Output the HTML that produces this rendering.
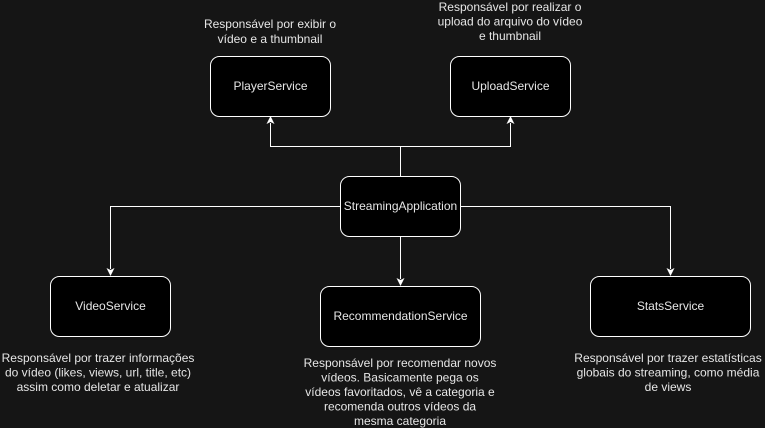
<!DOCTYPE html>
<html><head><meta charset="utf-8"><style>
html,body{margin:0;padding:0;background:#151515;}
svg{display:block;}
text{font-family:"Liberation Sans",Arial,sans-serif;font-size:12px;fill:#e6e6e6;text-anchor:middle;}
</style></head><body>
<svg width="765" height="428" viewBox="0 0 765 428" xmlns="http://www.w3.org/2000/svg">
<rect width="765" height="428" fill="#151515"/>
<g stroke="#ffffff" stroke-width="1" fill="none">
<path d="M400.5 176 V146.5 H270.5 V123"/>
<path d="M400.5 146.5 H510.5 V123"/>
<path d="M340 206.5 H110.5 V269"/>
<path d="M460 206.5 H670.5 V269"/>
<path d="M400.5 236 V279"/>
</g>
<g fill="#ffffff">
<path d="M270.5 116 L274.5 124 L270.5 122 L266.5 124 Z"/>
<path d="M510.5 116 L514.5 124 L510.5 122 L506.5 124 Z"/>
<path d="M110.5 276 L114.5 268 L110.5 270 L106.5 268 Z"/>
<path d="M670.5 276 L674.5 268 L670.5 270 L666.5 268 Z"/>
<path d="M400.5 286 L404.5 278 L400.5 280 L396.5 278 Z"/>
</g>
<g fill="#000000" stroke="#ffffff" stroke-width="1">
<rect x="210.5" y="56.5" width="120" height="60" rx="9"/>
<rect x="450.5" y="56.5" width="120" height="60" rx="9"/>
<rect x="340.5" y="176.5" width="120" height="60" rx="9"/>
<rect x="50.5" y="276.5" width="120" height="60" rx="9"/>
<rect x="320.5" y="286.5" width="160" height="60" rx="9"/>
<rect x="590.5" y="276.5" width="160" height="60" rx="9"/>
</g>
<text x="270.5" y="90">PlayerService</text>
<text x="510.5" y="90">UploadService</text>
<text x="400.5" y="210">StreamingApplication</text>
<text x="110.5" y="310">VideoService</text>
<text x="400.5" y="320">RecommendationService</text>
<text x="670.5" y="310">StatsService</text>
<text x="270" y="28">Responsável por exibir o</text>
<text x="270" y="43">vídeo e a thumbnail</text>
<text x="510" y="11">Responsável por realizar o</text>
<text x="510" y="25.5">upload do arquivo do vídeo</text>
<text x="510" y="40">e thumbnail</text>
<text x="98" y="362">Responsável por trazer informações</text>
<text x="98" y="376.5">do vídeo (likes, views, url, title, etc)</text>
<text x="98" y="391">assim como deletar e atualizar</text>
<text x="400" y="367">Responsável por recomendar novos</text>
<text x="400" y="381.5">vídeos. Basicamente pega os</text>
<text x="400" y="396">vídeos favoritados, vê a categoria e</text>
<text x="400" y="410.5">recomenda outros vídeos da</text>
<text x="400" y="425">mesma categoria</text>
<text x="668" y="362">Responsável por trazer estatísticas</text>
<text x="668" y="376.5">globais do streaming, como média</text>
<text x="668" y="391">de views</text>
</svg>
</body></html>
